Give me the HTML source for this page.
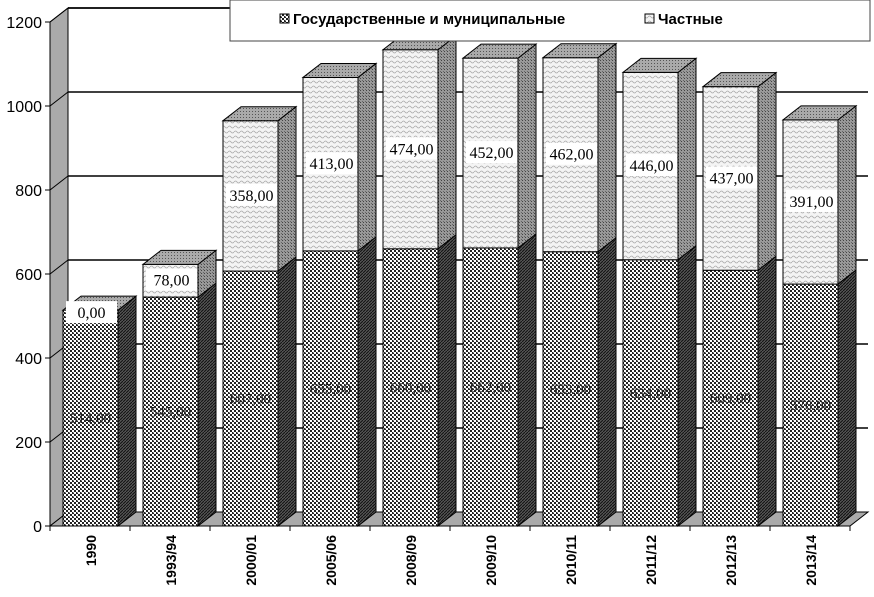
<!DOCTYPE html>
<html><head><meta charset="utf-8"><style>
html,body{margin:0;background:#fff;overflow:hidden;width:874px;height:597px;}
svg{display:block;font-family:"Liberation Sans",sans-serif;}
</style></head><body>
<svg id="chart" width="874" height="597" viewBox="0 0 874 597">
<defs>
<pattern id="pubFront" width="4" height="4" patternUnits="userSpaceOnUse"><rect width="4" height="4" fill="#fff"/><rect width="2" height="2" fill="#222"/><rect x="2" y="2" width="2" height="2" fill="#222"/><rect x="1" y="0" width="1" height="1" fill="#888"/></pattern>
<pattern id="pubSide" width="3" height="3" patternUnits="userSpaceOnUse"><rect width="3" height="3" fill="#555"/><path d="M0 3 L3 0" stroke="#111" stroke-width="1"/></pattern>
<pattern id="privFront" width="6" height="5" patternUnits="userSpaceOnUse"><rect width="6" height="5" fill="#f4f4f4"/><path d="M0 2 Q1.5 0 3 2 T6 2" stroke="#aaa" fill="none" stroke-width="0.8"/></pattern>
<pattern id="privSide" width="3" height="3" patternUnits="userSpaceOnUse"><rect width="3" height="3" fill="#999"/><rect width="1" height="1" fill="#444"/><rect x="2" y="2" width="1" height="1" fill="#666"/></pattern>
<pattern id="privTop" width="3" height="3" patternUnits="userSpaceOnUse"><rect width="3" height="3" fill="#aaa"/><rect width="1" height="1" fill="#555"/></pattern>
</defs>
<g id="axes"></g>
<g id="bars"></g>
<g id="legend">
<rect x="230" y="0" width="640" height="41" fill="#fff" stroke="#444" stroke-width="1"/>
<rect x="280" y="14" width="9" height="9" fill="url(#pubFront)" stroke="#000"/>
<text x="293" y="24" font-size="15" font-weight="bold">Государственные и муниципальные</text>
<rect x="645" y="14" width="9" height="9" fill="url(#privFront)" stroke="#000"/>
<text x="658" y="24" font-size="15" font-weight="bold">Частные</text>
</g>
</svg>
<script>
const categories=["1990","1993/94","2000/01","2005/06","2008/09","2009/10","2010/11","2011/12","2012/13","2013/14"];
const publicVals=[514,545,607,655,660,662,653,634,609,576];
const privateVals=[0,78,358,413,474,452,462,446,437,391];
const yTicks=[0,200,400,600,800,1000,1200];
const NS="http://www.w3.org/2000/svg";
const y0=526,k=0.42,dx=18,dy=-14,axX=50,step=80,bw=55;
function yS(v){return y0-v*k;}
function xS(i){return 63+i*step;}
function mk(tag,attrs,parent){const e=document.createElementNS(NS,tag);for(const a in attrs)e.setAttribute(a,attrs[a]);parent.appendChild(e);return e;}
const ax=document.getElementById('axes'),bars=document.getElementById('bars');
let w=mk('polygon',{points:`${axX},${yS(1200)} ${axX+dx},${yS(1200)+dy} ${axX+dx},${y0+dy} ${axX},${y0}`,fill:'#aaa',stroke:'#000'},ax);


let f=mk('polygon',{points:`${axX},${y0} ${axX+dx},${y0+dy} 868,${y0+dy} 850,${y0}`,fill:'#aaa',stroke:'#000'},ax);


yTicks.forEach(t=>{
  const y=yS(t);
  if(t>0){const g=mk('line',{x1:axX+dx,y1:y+dy,x2:868,y2:y+dy,stroke:'#000','stroke-width':1.5},ax);
  
  
  mk('line',{x1:axX,y1:y,x2:axX+dx,y2:y+dy,stroke:'#000'},ax);}
  mk('line',{x1:axX-5,y1:y,x2:axX,y2:y,stroke:'#000'},ax);
  const l=mk('text',{x:axX-8,y:y+6,'text-anchor':'end','font-size':16},ax);
  l.textContent=t;
  
  
});
mk('line',{x1:axX,y1:yS(1200),x2:axX,y2:y0,stroke:'#000'},ax);
mk('line',{x1:axX,y1:y0,x2:850,y2:y0,stroke:'#000'},ax);
mk('line',{x1:axX+dx,y1:yS(1200)+dy,x2:868,y2:yS(1200)+dy,stroke:'#000','stroke-width':1.5},ax);
function box(x,yt,yb,front,side,top,name){
  const g=mk('g',{},bars);
  
  
  mk('rect',{x:x,y:yt,width:bw,height:Math.max(0,yb-yt),fill:front,stroke:'#000','stroke-width':1},g);
  mk('polygon',{points:`${x+bw},${yt} ${x+bw+dx},${yt+dy} ${x+bw+dx},${yb+dy} ${x+bw},${yb}`,fill:side,stroke:'#000','stroke-width':1},g);
  if(top)mk('polygon',{points:`${x},${yt} ${x+dx},${yt+dy} ${x+bw+dx},${yt+dy} ${x+bw},${yt}`,fill:top,stroke:'#000','stroke-width':1},g);
}
categories.forEach((c,i)=>{
  const x=xS(i),p=publicVals[i],q=privateVals[i];
  mk('line',{x1:axX+i*step,y1:y0,x2:axX+i*step,y2:y0+5,stroke:'#000'},ax);
  box(x,yS(p),y0,'url(#pubFront)','url(#pubSide)',q>0?null:'url(#privTop)','bar-public-'+c);
  if(q>0)box(x,yS(p+q),yS(p),'url(#privFront)','url(#privSide)','url(#privTop)','bar-private-'+c);
  const pl=mk('text',{x:x+bw/2,y:yS(p/2)+5,'text-anchor':'middle','font-size':15,'font-family':'Liberation Serif, serif',fill:'#222'},bars);
  pl.textContent=p.toFixed(2).replace('.',',');
  
  
  const ly=q>0?yS(p+q/2):yS(p)+3;
  mk('rect',{x:x+3,y:ly-12,width:bw-4,height:22,fill:'#fff'},bars);
  const ql=mk('text',{x:x+bw/2+1,y:ly+5,'text-anchor':'middle','font-size':16,'font-family':'Liberation Serif, serif'},bars);
  ql.textContent=q.toFixed(2).replace('.',',');
  
  
  const cl=mk('text',{transform:`translate(${axX+i*step+46},535) rotate(-90)`,'text-anchor':'end','font-size':14,'font-weight':'bold'},ax);
  cl.textContent=c;
  
  
});
mk('line',{x1:axX+10*step,y1:y0,x2:axX+10*step,y2:y0+5,stroke:'#000'},ax);
</script>
</body></html>
